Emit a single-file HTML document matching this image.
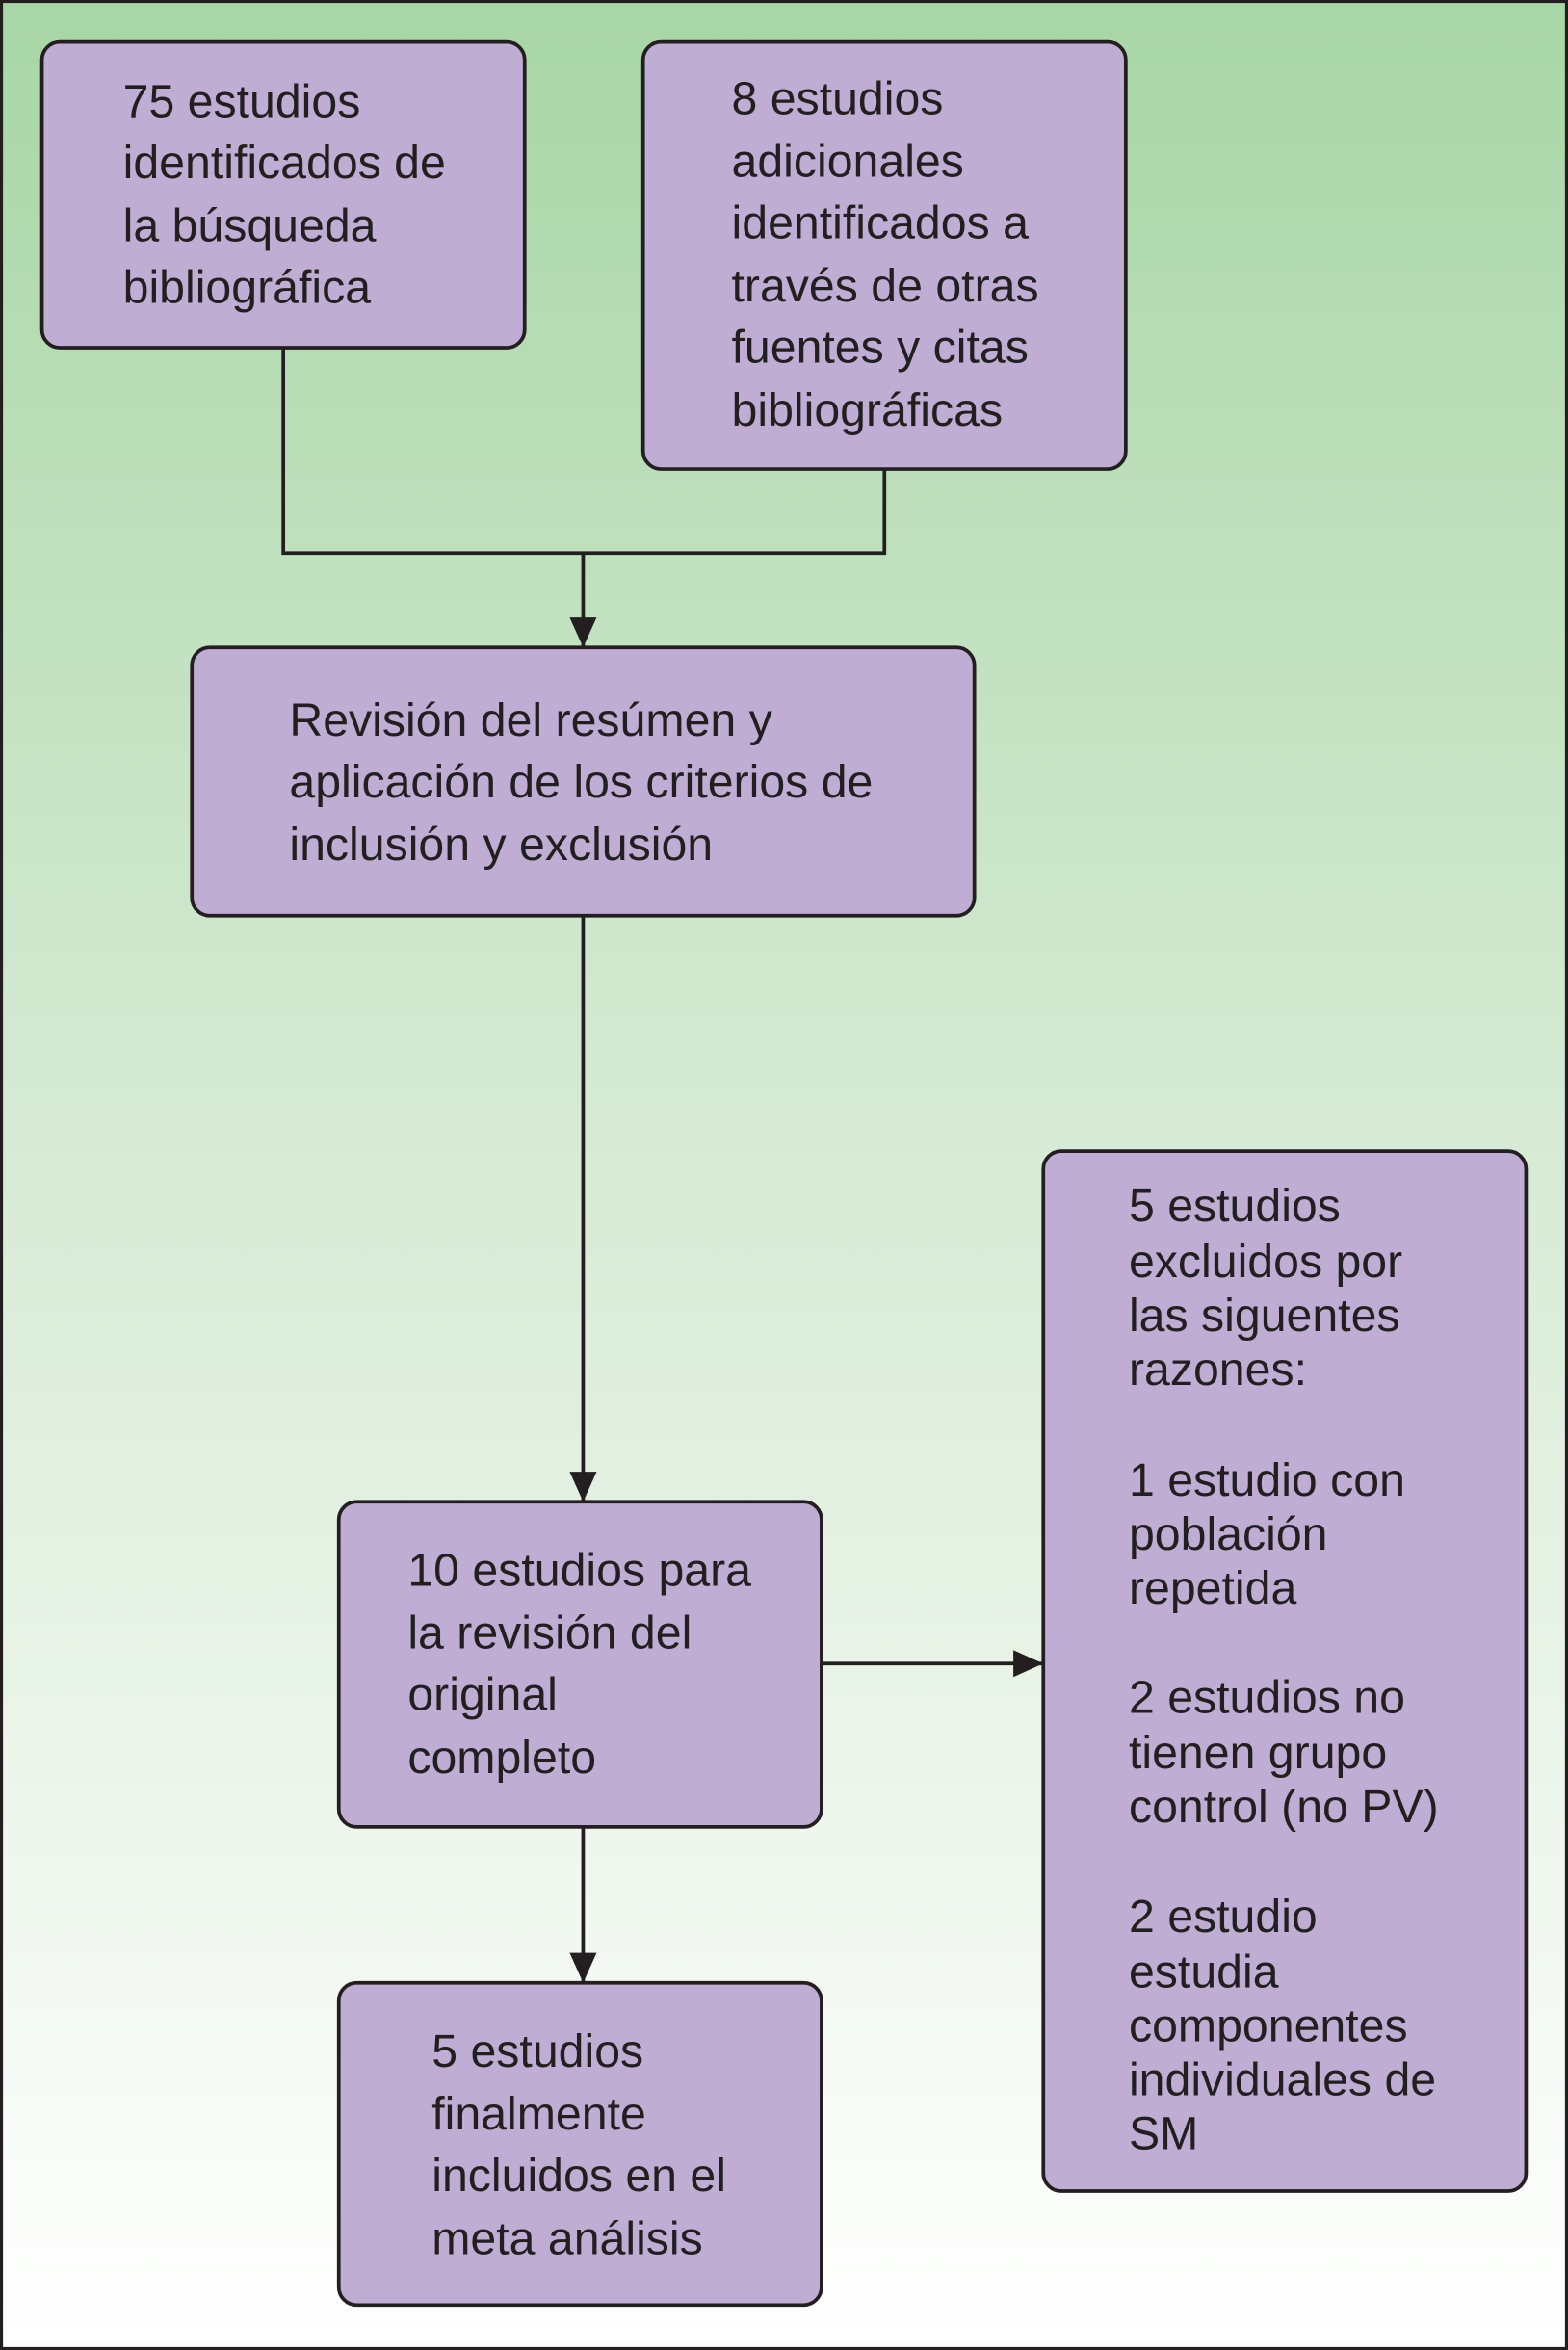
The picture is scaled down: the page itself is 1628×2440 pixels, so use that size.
<!DOCTYPE html>
<html><head><meta charset="utf-8"><style>
html,body{margin:0;padding:0;width:1628px;height:2440px;overflow:hidden}
svg{display:block}
text{font-family:"Liberation Sans",sans-serif;font-size:31px;fill:#231f20}
</style></head><body>
<svg width="1628" height="2440" viewBox="0 0 1046 1568" preserveAspectRatio="none">
<defs>
<linearGradient id="g" x1="0" y1="0" x2="0" y2="1">
<stop offset="0" stop-color="#a8d6a6"/>
<stop offset="0.5" stop-color="#d8ebd6"/>
<stop offset="1" stop-color="#ffffff"/>
</linearGradient>
<marker id="a" markerWidth="20" markerHeight="20" refX="20" refY="10" orient="auto" markerUnits="userSpaceOnUse" viewBox="0 0 20 20">
<path d="M0,1 L20,10 L0,19 z" fill="#231f20"/>
</marker>
</defs>
<rect x="1" y="1" width="1044" height="1566" fill="url(#g)" stroke="#231f20" stroke-width="2"/>
<g fill="none" stroke="#231f20" stroke-width="2.4">
<polyline points="189,232 189,369 590,369 590,313"/>
<line x1="389" y1="369" x2="389" y2="432" marker-end="url(#a)" />
<line x1="389" y1="611" x2="389" y2="1002" marker-end="url(#a)"/>
<line x1="548" y1="1110" x2="696" y2="1110" marker-end="url(#a)"/>
<line x1="389" y1="1219" x2="389" y2="1323" marker-end="url(#a)"/>
</g>
<g fill="#bfadd4" stroke="#231f20" stroke-width="2.4">
<rect x="28" y="28" width="322" height="204" rx="12"/>
<rect x="429" y="28" width="322" height="285" rx="12"/>
<rect x="128" y="432" width="522" height="179" rx="12"/>
<rect x="226" y="1002" width="322" height="217" rx="12"/>
<rect x="696" y="768" width="322" height="694" rx="12"/>
<rect x="226" y="1323" width="322" height="215" rx="12"/>
</g>
<text x="82" y="78">75 estudios</text>
<text x="82" y="119">identificados de</text>
<text x="82" y="161">la búsqueda</text>
<text x="82" y="202">bibliográfica</text>
<text x="488" y="76">8 estudios</text>
<text x="488" y="118">adicionales</text>
<text x="488" y="159">identificados a</text>
<text x="488" y="201">través de otras</text>
<text x="488" y="242">fuentes y citas</text>
<text x="488" y="284">bibliográficas</text>
<text x="193" y="491">Revisión del resúmen y</text>
<text x="193" y="532">aplicación de los criterios de</text>
<text x="193" y="574">inclusión y exclusión</text>
<text x="272" y="1058">10 estudios para</text>
<text x="272" y="1100">la revisión del</text>
<text x="272" y="1141">original</text>
<text x="272" y="1183">completo</text>
<text x="288" y="1379">5 estudios</text>
<text x="288" y="1421">finalmente</text>
<text x="288" y="1462">incluidos en el</text>
<text x="288" y="1504">meta análisis</text>
<text x="753" y="815">5 estudios</text>
<text x="753" y="852">excluidos por</text>
<text x="753" y="888">las siguentes</text>
<text x="753" y="924">razones:</text>
<text x="753" y="998">1 estudio con</text>
<text x="753" y="1034">población</text>
<text x="753" y="1070">repetida</text>
<text x="753" y="1143">2 estudios no</text>
<text x="753" y="1180">tienen grupo</text>
<text x="753" y="1216">control (no PV)</text>
<text x="753" y="1289">2 estudio</text>
<text x="753" y="1326">estudia</text>
<text x="753" y="1362">componentes</text>
<text x="753" y="1398">individuales de</text>
<text x="753" y="1434">SM</text>
</svg>
</body></html>
